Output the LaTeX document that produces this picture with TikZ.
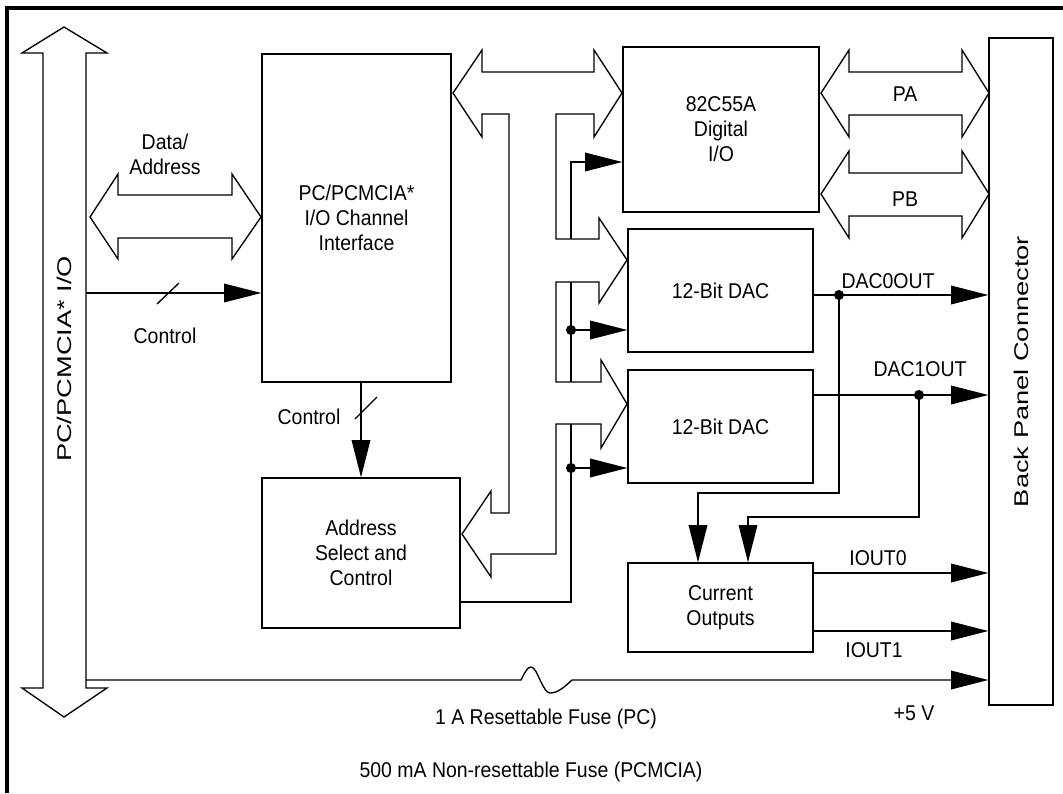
\documentclass[tikz,border=0pt]{standalone}
\usepackage{fontspec}
\setmainfont{Liberation Sans}
\usetikzlibrary{arrows.meta,fit,calc}
\begin{document}
\begin{tikzpicture}[x=0.75pt,y=-0.75pt,line width=1pt,
  every node/.style={font=\fontsize{14.6}{17}\selectfont},
  box/.style={draw, inner sep=0pt},
  lbl/.style={align=center, inner sep=0pt, yscale=1.1},
  rlbl/.style={inner sep=0pt, rotate=90, xscale=1.4, yscale=1.02},
  bus/.style={draw, fill=white, line join=miter},
  sig/.style={-{Triangle[length=28pt,width=14pt]}},
  frame/.style={line width=3pt}]
\useasboundingbox (0,0) rectangle (1063,793);
% frame
\draw[frame] (7,793) -- (7,8) -- (1063,8);
% boxes
\node[box, fit={(262,54) (451,382)}] (pc) {};
\node[box, fit={(262,478) (460,628)}] (as) {};
\node[box, fit={(623,47) (819,212)}] (dio) {};
\node[box, fit={(628,229) (813,352)}] (dac0) {};
\node[box, fit={(628,370) (813,483)}] (dac1) {};
\node[box, fit={(628,563) (813,652)}] (cur) {};
\node[box, fit={(989,38) (1053,705)}] (bp) {};
\node[lbl] (pct) at (pc.center) {PC/PCMCIA*\\I/O Channel\\Interface};
\node[lbl] (ast) at (as.center) {Address\\Select and\\Control};
\node[lbl] (diot) at (dio.center) {82C55A\\Digital\\I/O};
\node[lbl] (dac0t) at (dac0.center) {12-Bit DAC};
\node[lbl] (dac1t) at (dac1.center) {12-Bit DAC};
\node[lbl] (curt) at (cur.center) {Current\\Outputs};
\node[rlbl] (bpt) at (bp.center) {Back Panel Connector};
% left system bus
\draw[bus] (64,27) -- (107,53) -- (86,53) -- (86,688) -- (107,688) -- (64,717)
  -- (22,688) -- (43,688) -- (43,53) -- (22,53) -- cycle;
\node[rlbl] (bust) at (64,359) {PC/PCMCIA* I/O};
% data/address bus
\draw[bus] (90,217) -- (118,174) -- (118,195) -- (232,195) -- (232,174) -- (261,217)
  -- (232,259) -- (232,238) -- (118,238) -- (118,259) -- cycle;
\node[lbl] (dat) at (165,154) {Data/\\Address};
% control line
\coordinate (ctl) at (86,293);
\draw[sig] (ctl) -- (pc.west |- ctl);
\draw (157,304) -- (179,283);
\node[lbl] (ctlt) at (165,336) {Control};
% control down
\draw[sig] (pc.south -| as.north) -- (as.north);
\draw (355,419) -- (377,397);
\node[lbl] (ctl2t) at (309,417) {Control};
% internal bus
\draw[bus] (453,93) -- (482,50) -- (482,72) -- (594,72) -- (594,50) -- (622,93)
  -- (594,137) -- (594,114) -- (556,114) -- (556,239) -- (599,239) -- (599,218)
  -- (627,260) -- (599,303) -- (599,282) -- (556,282) -- (556,382) -- (601,382)
  -- (601,360) -- (627,404) -- (601,448) -- (601,424) -- (556,424) -- (556,554)
  -- (491,554) -- (491,577) -- (462,534) -- (491,491) -- (491,513) -- (509,513)
  -- (509,114) -- (482,114) -- (482,137) -- cycle;
% control signal lines inside
\coordinate (asout) at (460,602);
\draw (asout) -- (571,602) -- (571,424);
\draw (571,382) -- (571,282);
\coordinate (t82) at (571,239);
\draw[sig] (t82) -- (571,162) -- (dio.west |- 571,162);
\coordinate (j0) at (571,330);
\coordinate (j1) at (571,468);
\draw[sig] (j0) -- (dac0.west |- j0);
\draw[sig] (j1) -- (dac1.west |- j1);
\fill (j0) circle (3.8pt);
\fill (j1) circle (3.8pt);
% PA / PB buses
\draw[bus] (821,93) -- (849,50) -- (849,72) -- (962,72) -- (962,50) -- (989,93)
  -- (962,137) -- (962,115) -- (849,115) -- (849,137) -- cycle;
\node[lbl] (pat) at (905,94) {PA};
\draw[bus] (821,194) -- (849,151) -- (849,173) -- (962,173) -- (962,151) -- (989,194)
  -- (962,238) -- (962,216) -- (849,216) -- (849,238) -- cycle;
\node[lbl] (pbt) at (905,199) {PB};
% DAC outputs
\coordinate (o0) at (813,295);
\coordinate (o1) at (813,395);
\coordinate (d0) at (839,295);
\coordinate (d1) at (919,395);
\draw[sig] (o0) -- (bp.west |- o0);
\draw[sig] (o1) -- (bp.west |- o1);
\fill (d0) circle (3.8pt);
\fill (d1) circle (3.8pt);
\node[lbl] (o0t) at (888,281) {DAC0OUT};
\node[lbl] (o1t) at (920,369) {DAC1OUT};
\draw[sig] (d0) -- (839,493) -- (698,493) -- (698,0 |- cur.north);
\draw[sig] (d1) -- (919,517) -- (748,517) -- (748,0 |- cur.north);
% current outputs
\coordinate (i0) at (813,573);
\coordinate (i1) at (813,631);
\draw[sig] (i0) -- (bp.west |- i0);
\draw[sig] (i1) -- (bp.west |- i1);
\node[lbl] (i0t) at (878,558) {IOUT0};
\node[lbl] (i1t) at (874,650) {IOUT1};
% +5 V with fuse
\coordinate (p5) at (86,680);
\draw[sig] (p5) -- (521,680) sin (531,667) cos (540,680) sin (550,693) cos (572,680)
  -- (bp.west |- p5);
\node[lbl] (p5t) at (914,713) {+5 V};
\node[lbl] (f1) at (546,719) {1 A Resettable Fuse (PC)};
\node[lbl] (f2) at (531,772) {500 mA Non-resettable Fuse (PCMCIA)};
\end{tikzpicture}
\end{document}
